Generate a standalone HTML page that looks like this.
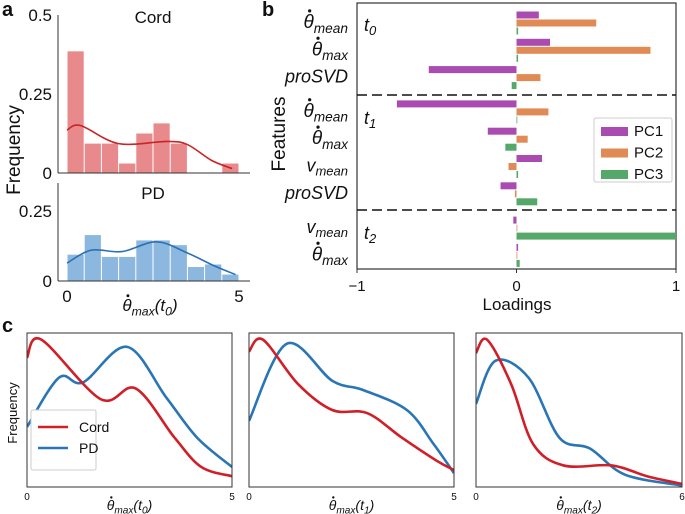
<!DOCTYPE html>
<html><head><meta charset="utf-8"><style>
body{margin:0;background:#fff}
svg{display:block;font-family:"Liberation Sans","DejaVu Sans",sans-serif}
</style></head><body>
<svg id="fig" width="685" height="514" viewBox="0 0 685 514" xmlns="http://www.w3.org/2000/svg"></svg>
<script>
// ---------- DATA ----------
const histBins = [0,0.5,1,1.5,2,2.5,3,3.5,4,4.5];
const cordHist = [0.385,0.093,0.093,0.03,0.125,0.157,0.093,0,0,0.03];
const pdHist = [0.094,0.164,0.086,0.086,0.145,0.145,0.128,0.05,0.059,0.023];
const cordKdeX = [0,0.4,1.5,2.9,3.5,4.2,4.8];
const cordKdeY = [0.136,0.15,0.093,0.1,0.09,0.04,0.014];
const pdKdeX = [0,0.7,1.6,2.6,3.5,4.3,4.9];
const pdKdeY = [0.064,0.11,0.105,0.14,0.1,0.053,0.023];

const featureLabels = [["θ","mean"],["θ","max"],["proSVD",""],["θ","mean"],["θ","max"],["v","mean"],["proSVD",""],["v","mean"],["θ","max"]];
const featureSection = [0,0,0,1,1,1,1,2,2];
const pc1 = [0.14,0.21,-0.55,-0.75,-0.18,0.16,-0.10,-0.02,0.01];
const pc2 = [0.50,0.84,0.15,0.20,0.07,-0.05,-0.01,0.0,0.0];
const pc3 = [0.01,0.01,-0.03,0.0,-0.07,0.01,0.13,1.0,0.02];
const loadTicks = [-1,0,1];

const c1X=[0,0.35,1.8,2.65,3.6,4.25,5], c1Cord=[0.84,0.957,0.57,0.64,0.32,0.13,0.07];
const c1pX=[0,0.78,1.37,2.44,3.4,4.15,5], c1PD=[0.39,0.71,0.68,0.91,0.58,0.32,0.13];
const c2X=[0,0.34,1.19,2.03,2.88,3.73,4.58,5], c2Cord=[0.88,0.957,0.67,0.5,0.48,0.32,0.17,0.11];
const c2pX=[0,0.92,2.03,2.78,3.85,4.5,5], c2PD=[0.43,0.93,0.69,0.63,0.5,0.28,0.09];
const c3X=[0,0.32,1.02,1.66,2.55,3.96,4.98,6], c3Cord=[0.87,0.957,0.67,0.28,0.14,0.14,0.07,0.02];
const c3pX=[0,0.57,1.53,2.43,3.32,4.34,6], c3PD=[0.54,0.82,0.71,0.32,0.25,0.08,0.01];

// ---------- HELPERS ----------
const svg=document.getElementById('fig');
const NS='http://www.w3.org/2000/svg';
function el(tag,attrs,parent){const e=document.createElementNS(NS,tag);for(const k in attrs)e.setAttribute(k,attrs[k]);(parent||svg).appendChild(e);return e;}
function txt(x,y,s,size,extra,parent){const t=el('text',Object.assign({x:x,y:y,'font-size':size,fill:'#111'},extra||{}),parent);t.textContent=s;return t;}
function smooth(pts){let d='M'+pts[0][0]+','+pts[0][1];for(let i=0;i<pts.length-1;i++){const p0=pts[i-1]||pts[i],p1=pts[i],p2=pts[i+1],p3=pts[i+2]||p2;
const c1x=p1[0]+(p2[0]-p0[0])/6,c1y=p1[1]+(p2[1]-p0[1])/6,c2x=p2[0]-(p3[0]-p1[0])/6,c2y=p2[1]-(p3[1]-p1[1])/6;
d+=' C'+c1x+','+c1y+' '+c2x+','+c2y+' '+p2[0]+','+p2[1];}return d;}
function thetaLabel(x,y,sub,paren,size,anchor,name,parent){const t=el('text',{x:x,y:y,'font-size':size,'font-style':'italic','text-anchor':anchor||'middle',fill:'#111'},parent);

const a=el('tspan',{},t);a.textContent='θ';const b=el('tspan',{'font-size':size*0.72,dy:size*0.25},t);b.textContent=sub;
if(paren){const c=el('tspan',{dy:-size*0.25},t);c.textContent='(t';const d=el('tspan',{'font-size':size*0.72,dy:size*0.25},t);d.textContent=paren;const e=el('tspan',{dy:-size*0.25},t);e.textContent=')';}
try{const ex=t.getExtentOfChar(0);const dot=el('circle',{cx:ex.x+ex.width*0.6,cy:y-size*0.9,r:Math.max(1.2,size*0.085),fill:'#111'},parent);
}catch(e){}
return t;}

// panel letters
[['a',2,16],['b',262,16],['c',2,332]].forEach(p=>{const t=txt(p[1],p[2],p[0],20,{'font-weight':'bold'});});

// ---------- PANEL A ----------
function histPanel(name,top,bottom,yMax,hist,kx,ky,fill,line,yTicks,title){
 const g=el('g',{});
 const x0=67,x5=239;const X=v=>x0+(x5-x0)*v/5;const Y=v=>bottom-(bottom-top)*v/yMax;
 hist.forEach((h,i)=>{if(h<=0)return;const r=el('rect',{x:X(histBins[i])+0.5,y:Y(h),width:X(0.5)-x0-1,height:bottom-Y(h),fill:fill},g);
 });
 const p=el('path',{d:smooth(kx.map((v,i)=>[X(v),Y(ky[i])])),fill:'none',stroke:line,'stroke-width':1.6},g);
 
 el('line',{x1:58,y1:bottom,x2:250,y2:bottom,stroke:'#333','stroke-width':1},g);
 el('line',{x1:58,y1:top,x2:58,y2:bottom,stroke:'#333','stroke-width':1},g);
 yTicks.forEach(t=>{const s=txt(52,Y(t[0])+6,t[1],17,{'text-anchor':'end'},g);});
 const tt=txt(153,top+(name==='hist-pd'?16:8),title,17,{'text-anchor':'middle'},g);
}
histPanel('hist-cord',15,173,0.5,cordHist,cordKdeX,cordKdeY,'#e8898c','#c92426',[[0.5,'0.5'],[0.25,'0.25'],[0,'0']],'Cord');
histPanel('hist-pd',183,281,0.35,pdHist,pdKdeX,pdKdeY,'#8cb7df','#2c71b5',[[0.25,'0.25'],[0,'0']],'PD');
[['0',67],['5',239]].forEach(t=>{const s=txt(t[1],302,t[0],17,{'text-anchor':'middle'});});
thetaLabel(150,311,'max','0',17,'middle','hist-x-title');
{const t=txt(0,0,'Frequency',19,{transform:'translate(20,150) rotate(-90)','text-anchor':'middle'});}

// ---------- PANEL B ----------
(function(){
 const g=el('g',{});
 const L=357,R=676,T=3,B=269;const X=v=>L+(R-L)*(v+1)/2;
 const yc=i=>23+i*27.3+featureSection[i]*7;
 el('rect',{x:L,y:T,width:R-L,height:B-T,fill:'none',stroke:'#333','stroke-width':1.2},g);
 const series=[[pc1,'#a94bb0',-8],[pc2,'#e08a55',0],[pc3,'#56a86a',8]];
 featureLabels.forEach((f,i)=>{series.forEach((s,k)=>{const v=s[0][i];const r=el('rect',{x:Math.min(X(0),X(v)),y:yc(i)+s[2]-3.5,width:Math.max(Math.abs(X(v)-X(0)),0.8),height:7,fill:s[1]},g);
  });
  let t;if(f[0]==='θ'){t=thetaLabel(348,yc(i)+5,f[1],null,19,'end','feature-label',g);}
  else{t=el('text',{x:348,y:yc(i)+5,'font-size':18,'font-style':'italic','text-anchor':'end',fill:'#111'},g);const a=el('tspan',{},t);a.textContent=f[0];
   if(f[1]){const b=el('tspan',{'font-size':13,dy:4},t);b.textContent=f[1];}
   }
 });
 [95,210].forEach(y=>{const l=el('line',{x1:L,y1:y,x2:R,y2:y,stroke:'#111','stroke-width':1.6,'stroke-dasharray':'10,5'},g);});
 [['0',25],['1',118],['2',233]].forEach(s=>{const t=el('text',{x:364,y:s[1]+6,'font-size':18,'font-style':'italic',fill:'#111'},g);const a=el('tspan',{},t);a.textContent='t';const b=el('tspan',{'font-size':13,dy:4},t);b.textContent=s[0];
  });
 loadTicks.forEach(v=>{el('line',{x1:X(v),y1:B,x2:X(v),y2:B+4,stroke:'#333'},g);const t=txt(X(v),B+22,v<0?'−'+Math.abs(v):String(v),15,{'text-anchor':'middle'},g);});
 const xt=txt(517,310,'Loadings',17,{'text-anchor':'middle'},g);
 const yt=txt(0,0,'Features',19,{transform:'translate(285,134) rotate(-90)','text-anchor':'middle'},g);
 const lg=el('g',{},g);
 el('rect',{x:594,y:118,width:78,height:64,fill:'#fff',stroke:'#ccc',rx:2},lg);
 ['PC1','PC2','PC3'].forEach((n,k)=>{const e=el('g',{},lg);
  el('rect',{x:601,y:127+k*21.5,width:27,height:9,fill:series[k][1]},e);txt(634,136+k*21.5,n,15,{},e);});
})();

// ---------- PANEL C ----------
function kdePanel(name,L,R,xMax,cx,cy,px,py,xTickLabel,sub){
 const T=333,B=487;const g=el('g',{});
 const X=v=>L+(R-L)*v/xMax,Y=v=>B-(B-T)*v;
 const cp=el('clipPath',{id:'cl'+name},g);el('rect',{x:L,y:T,width:R-L,height:B-T},cp);
 const a=el('path',{d:smooth(px.map((v,i)=>[X(v),Y(py[i])])),fill:'none',stroke:'#2a75b5','stroke-width':2.6,'clip-path':'url(#cl'+name+')'},g);
 const b=el('path',{d:smooth(cx.map((v,i)=>[X(v),Y(cy[i])])),fill:'none',stroke:'#d01f27','stroke-width':2.6,'clip-path':'url(#cl'+name+')'},g);
 el('rect',{x:L,y:T,width:R-L,height:B-T,fill:'none',stroke:'#333','stroke-width':1},g);
 [[0,'0'],[xMax,xTickLabel]].forEach(t=>{const s=txt(X(t[0]),500,t[1],10,{'text-anchor':'middle'},g);});
 thetaLabel((L+R)/2,510,'max',sub,14,'middle','x-axis-title',g);
}
kdePanel('kde-t0',27,232,5,c1X,c1Cord,c1pX,c1PD,'5','0');
kdePanel('kde-t1',249,454,5,c2X,c2Cord,c2pX,c2PD,'5','1');
kdePanel('kde-t2',476,682,6,c3X,c3Cord,c3pX,c3PD,'6','2');
{const t=txt(0,0,'Frequency',13,{transform:'translate(17,413) rotate(-90)','text-anchor':'middle'});}
{const lg=el('g',{});
 el('rect',{x:31,y:470-60,width:65,height:60,fill:'#fff',stroke:'#ccc',rx:2},lg);
 [['Cord','#d01f27',427],['PD','#2a75b5',448]].forEach(e=>{const eg=el('g',{},lg);
 el('line',{x1:38,y1:e[2],x2:68,y2:e[2],stroke:e[1],'stroke-width':2.6},eg);txt(79,e[2]+5,e[0],14,{},eg);});}
</script>
</body></html>
